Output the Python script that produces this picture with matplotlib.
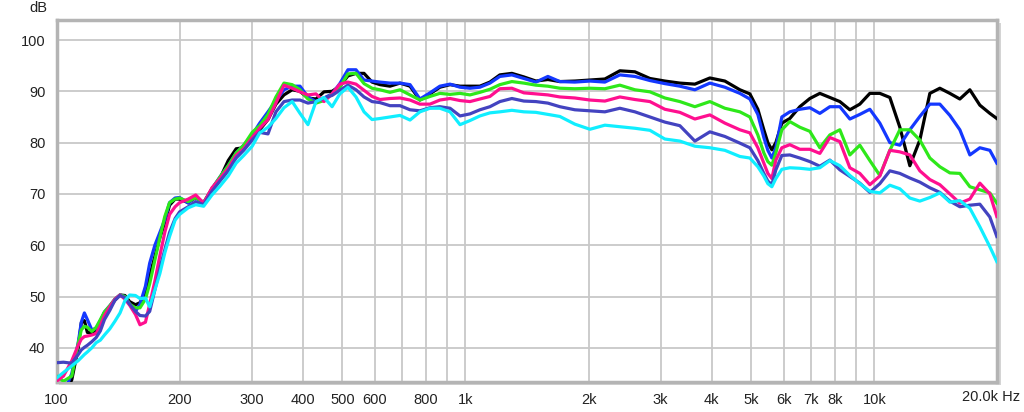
import matplotlib
matplotlib.use("Agg")
import matplotlib.pyplot as plt
import matplotlib.ticker as mticker
from matplotlib.patches import Rectangle
import numpy as np

plt.rcParams['font.family'] = ['Liberation Sans', 'DejaVu Sans']

# frequency grid (Hz) shared by all curves
freq = [100, 104, 109, 113, 115, 117, 119, 122, 125, 128, 131, 135, 139, 143, 147, 151,
        156, 160, 165, 169, 174, 179, 184, 189, 195, 200, 210, 219, 229, 240, 251, 263,
        275, 287, 301, 314, 329, 344, 360, 377, 394, 412, 431, 451, 472, 493, 516, 540,
        565, 591, 618, 654, 692, 732, 774, 819, 866, 917, 970, 1026, 1085, 1148, 1214,
        1299, 1390, 1487, 1591, 1702, 1852, 2016, 2193, 2386, 2597, 2826, 3074, 3345,
        3640, 3961, 4310, 4690, 4961, 5189, 5367, 5490, 5615, 5743, 5940, 6213, 6573,
        6955, 7357, 7784, 8234, 8712, 9215, 9750, 10314, 10912, 11544, 12213, 12920,
        13669, 14460, 15299, 16185, 17123, 18114, 19163, 19930]

black = [30, 30.5, 33.8, 40, 44.9, 45.3, 43, 43, 43.5, 45, 46.8, 48, 49.3, 50.3, 50.2, 49,
         48.4, 48.8, 50.5, 54, 57.8, 61.5, 64.4, 67.8, 69, 69, 68.3, 69.3, 68.3, 71, 73, 76.5,
         78.8, 79, 81, 82.5, 84.5, 87.5, 89.3, 90.3, 90, 88.7, 88.5, 89.9, 90, 91, 93, 93.5,
         93.5, 91.8, 91.3, 91, 91.6, 91, 88.3, 89.5, 90.8, 91.3, 91, 91, 91, 91.8, 93.2,
         93.5, 92.8, 92, 92.3, 91.9, 92, 92.2, 92.4, 94, 93.8, 92.5, 92, 91.6,
         91.4, 92.6, 92, 90.3, 89.5, 86.5, 82.5, 80, 78.6, 80, 83.8, 84.7, 87,
         88.6, 89.6, 88.8, 88, 86.4, 87.5, 89.6, 89.6, 88.8, 83, 75.5, 80.5,
         89.6, 90.6, 89.6, 88.5, 90.3, 87.3, 85.7, 84.7]

blue = [30, 31, 35, 41, 45, 46.8, 45.5, 43.5, 43.8, 45.3, 47, 48.2, 49.5, 50.3, 50, 48.5,
        47.1, 48.5, 52, 56.5, 60, 62.5, 65, 68.3, 69.2, 69.3, 68.2, 69.5, 68.2, 71, 73.3, 75.5,
        78, 79.5, 81.5, 83.8, 86, 88.2, 90.3, 91, 91, 88.9, 88, 88.7, 89.5, 91.5, 94.2, 94.2,
        92.2, 92, 91.8, 91.6, 91.6, 91.3, 88.5, 89.7, 91, 91.4, 90.8, 90.6, 90.8, 91.6, 92.9,
        93.2, 92.5, 91.8, 92.9, 91.9, 91.8, 92, 91.8, 93.2, 92.9, 92.1, 91.5, 91,
        90.3, 91.6, 90.8, 89.6, 88.5, 85.5, 81, 78.5, 77, 79, 85, 86, 86.5,
        86.8, 85.7, 87, 87, 84.6, 85.5, 86.5, 83.8, 80, 79.5, 82.5, 85.1,
        87.5, 87.5, 85.3, 82.5, 77.6, 79, 78.5, 76]

green = [34.5, 33.5, 34.5, 40.9, 43.5, 44.2, 44, 43.2, 44, 45.5, 47, 48.2, 49.5, 50.3, 50, 48.5,
         47.8, 47.8, 49.5, 52.5, 57.1, 61.5, 65.6, 68.3, 69, 69.2, 68.5, 69.3, 68.3, 71, 73.3, 75.5,
         78, 79.5, 82, 83.3, 85.5, 88.9, 91.6, 91.3, 90.3, 88.5, 87.7, 88.2, 89.5, 90.8, 93.4, 93.5,
         91.5, 90.6, 90.3, 89.8, 90.3, 89.3, 88.3, 89, 89.6, 89.4, 89.6, 89.3, 89.8, 90.4, 91.3,
         91.9, 91.6, 91.2, 91, 90.6, 90.5, 90.6, 90.5, 91.2, 90.3, 89.9, 88.7, 88,
         87, 88, 86.7, 86, 85, 81.5, 78, 76.3, 75.6, 78, 82.5, 84.1, 83,
         82.2, 79, 81.5, 82.5, 77.6, 79.5, 76.5, 73.6, 78.5, 82.5, 82.5, 80.5,
         77, 75.3, 74.1, 74, 71.4, 70.8, 70.2, 68.2]

magenta = [33.5, 34.5, 37.5, 40.5, 41.7, 42.2, 42.3, 42.5, 42.8, 44.3, 46.3, 48, 49.5, 50.3, 49.5, 48.3,
           46.5, 44.5, 45, 48.5, 53, 58, 62.5, 66, 67.5, 68.3, 69, 69.8, 68.2, 71.2, 73, 75,
           77.5, 78.8, 81, 82.8, 84.5, 87.7, 91.2, 90.6, 89.9, 89.3, 89.5, 88, 89.5, 91.4, 91.8, 91.4,
           90.2, 89, 88.4, 88.6, 88.7, 88.3, 87.5, 87.5, 88.3, 88.6, 88.2, 88, 88.5, 89, 90.5,
           90.6, 89.7, 89.5, 89.3, 88.9, 88.7, 88.3, 88.1, 88.9, 88.4, 88, 86.5, 85.9,
           84.6, 85.4, 83.8, 82.5, 81.9, 79, 76, 74, 73, 76.6, 79, 79.6, 78.7,
           78.7, 77.9, 81, 80.2, 75.1, 74, 71.8, 73.5, 78.5, 78.2, 77.6, 74.5,
           72.8, 71.8, 70, 68.2, 69, 72.1, 70, 65.6]

purple = [37.1, 37.2, 37, 38.7, 39.6, 40.1, 40.5, 41.2, 42, 43.3, 45.5, 47.3, 49.3, 50.2, 49.8, 48.5,
          47.1, 46.3, 46.2, 47.1, 51.3, 55.5, 59.1, 62.5, 65.2, 66.5, 67.5, 68.5, 67.9, 70.5, 72.5, 74.5,
          77, 78.5, 80.5, 82, 81.7, 86, 88, 88.3, 88.3, 87.7, 88, 88.7, 89.2, 90.2, 91.2, 90.3,
          88.9, 88, 87.8, 87.2, 87.2, 86.4, 86.2, 86.8, 87, 86.7, 85.2, 85.6, 86.4, 87, 88,
          88.6, 88.1, 88, 87.7, 87, 86.4, 86.2, 86, 86.7, 86, 85, 84, 83.3,
          80.3, 82.1, 81.2, 79.9, 79, 76.5, 74, 72.5, 71.8, 74.7, 77.5, 77.6, 77,
          76.3, 75.4, 76.6, 74.7, 73.4, 72.1, 70.3, 72, 74.5, 74, 73.1, 72.3,
          71.2, 70.3, 68.6, 67.5, 67.8, 68, 65.5, 61.7]

cyan = [34.1, 35.2, 36.5, 37.5, 38.1, 38.7, 39.2, 40, 41, 41.5, 42.5, 43.7, 45.2, 46.8, 49.2, 50.3,
        50.2, 49.6, 49.7, 48, 51.3, 54.5, 58.5, 61.7, 64.9, 66, 67.3, 67.9, 67.6, 69.8, 71.5, 73.5,
        76, 77.5, 79.3, 81.9, 83, 84.7, 86.8, 88, 85.7, 83.5, 88, 88.8, 87, 89.5, 90.8, 88.9,
        86, 84.5, 84.7, 85, 85.3, 84.4, 86, 86.7, 86.7, 86, 83.5, 84.3, 85.2, 85.8, 86,
        86.3, 86, 85.9, 85.5, 85.1, 83.6, 82.6, 83.4, 83.1, 82.8, 82.4, 80.7, 80.3,
        79.3, 79, 78.5, 77.3, 77, 75.3, 73.5, 72, 71.4, 73, 74.8, 75.1, 75,
        74.8, 75.1, 76.5, 75.5, 73.6, 72, 70.5, 70.2, 71.7, 71, 69.2, 68.6,
        69.3, 70.2, 68.4, 68.7, 67.2, 63.6, 59.7, 56.8]

series = [(black, '#000000'), (blue, '#1438ff'), (green, '#2ee81a'),
          (magenta, '#ff0f8f'), (purple, '#4343c0'), (cyan, '#10eeff')]

xticks = [100, 200, 300, 400, 500, 600, 800, 1000, 2000, 3000, 4000, 5000, 6000, 7000, 8000, 10000]
xlabels = ['100', '200', '300', '400', '500', '600', '800', '1k', '2k', '3k', '4k', '5k', '6k', '7k', '8k', '10k']
grid_f = [200, 300, 400, 500, 600, 700, 800, 900, 1000, 2000, 3000, 4000, 5000, 6000, 7000, 8000, 9000, 10000]
yticks = [40, 50, 60, 70, 80, 90, 100]

fig = plt.figure(figsize=(10.24, 4.12), dpi=100)
ax = fig.add_axes([56.5 / 1024, 30.3 / 412, 940.5 / 1024, 361.7 / 412])

# drop shadow of the frame
fig.patches.append(Rectangle((58.5 / 1024, 27.3 / 412), 942 / 1024, 362 / 412,
                             transform=fig.transFigure, facecolor='#d4d4d4',
                             edgecolor='none', zorder=0))
ax.set_facecolor('white')
ax.set_zorder(1)

ax.set_xscale('log')
ax.set_xlim(100, 19950)
ax.set_ylim(33.4, 103.9)

for f in grid_f:
    ax.axvline(f, color='#c8c8c8', lw=1.3, zorder=1)
for y in yticks:
    ax.axhline(y, color='#c8c8c8', lw=1.3, zorder=1)

for vals, col in series:
    ax.plot(freq, vals, color=col, lw=2.3, solid_joinstyle='round', zorder=3)

ax.xaxis.set_major_locator(mticker.FixedLocator(xticks))
ax.xaxis.set_major_formatter(mticker.FixedFormatter(xlabels))
ax.xaxis.set_minor_locator(mticker.NullLocator())
ax.set_yticks(yticks)
ax.tick_params(axis='both', length=0, labelsize=10.5, colors='#222222')
ax.tick_params(axis='x', pad=8)
ax.tick_params(axis='y', pad=8)

for sp in ax.spines.values():
    sp.set_color('#b4b4b4')
    sp.set_linewidth(2.5)

fig.text(38 / 1024, 1 - 8 / 412, 'dB', ha='center', va='center', fontsize=10.5, color='#222222')
fig.text(1020 / 1024, 1 - 397 / 412, '20.0k Hz', ha='right', va='center', fontsize=10.5, color='#222222')

fig.savefig('out.png', dpi=100)
